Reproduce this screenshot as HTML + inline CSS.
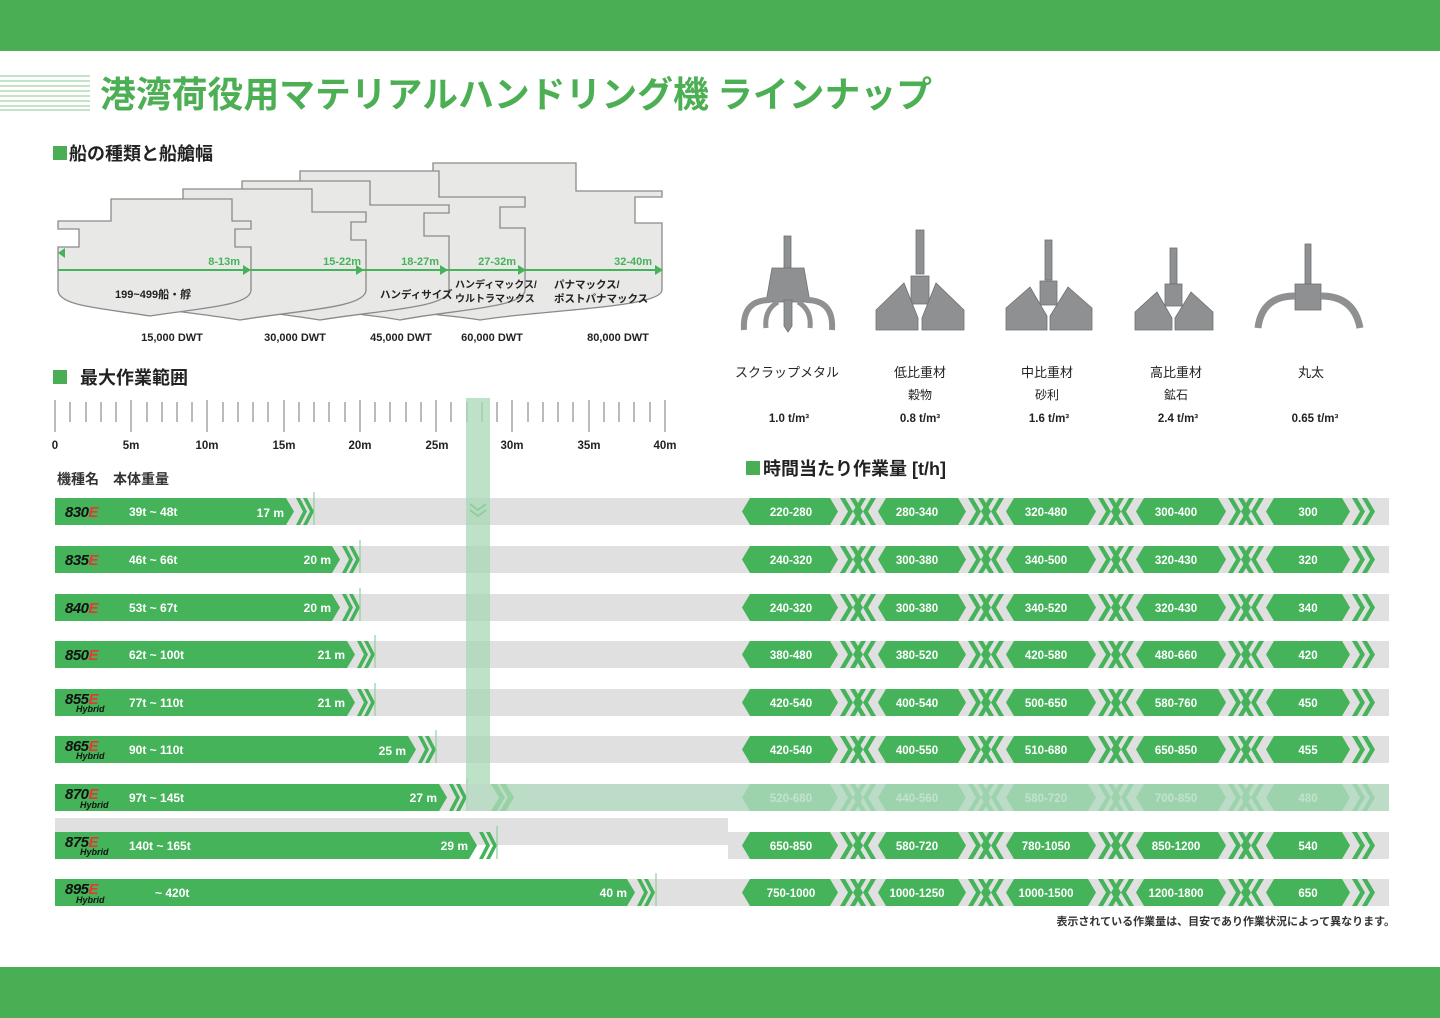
<!DOCTYPE html>
<html><head><meta charset="utf-8"><style>
html,body{margin:0;padding:0;background:#fff;}
svg{display:block;font-family:"Liberation Sans","Noto Sans CJK JP",sans-serif;}
.w{fill:#fff;font-weight:bold;font-size:12px;}
.v{fill:#fff;font-weight:bold;font-size:11.5px;text-anchor:middle;}
.m{fill:#111;font-weight:bold;font-style:italic;font-size:15px;letter-spacing:-0.5px;}
.h{fill:#111;font-weight:bold;font-style:italic;font-size:9px;}
</style></head><body>
<svg width="1440" height="1018" viewBox="0 0 1440 1018" xmlns="http://www.w3.org/2000/svg">
<defs>
<g id="rc">
<polygon points="742,13.5 750,0 830,0 838,13.5 830,27 750,27" fill="#45b35a"/>
<polygon points="840,0 845,0 853,13.5 845,27 840,27 848,13.5" fill="#45b35a"/>
<polygon points="850,0 855,0 863,13.5 855,27 850,27 858,13.5" fill="#45b35a"/>
<polygon points="866,0 861,0 853,13.5 861,27 866,27 858,13.5" fill="#45b35a"/>
<polygon points="876,0 871,0 863,13.5 871,27 876,27 868,13.5" fill="#45b35a"/>
<polygon points="878,13.5 886,0 958,0 966,13.5 958,27 886,27" fill="#45b35a"/>
<polygon points="968,0 973,0 981,13.5 973,27 968,27 976,13.5" fill="#45b35a"/>
<polygon points="978,0 983,0 991,13.5 983,27 978,27 986,13.5" fill="#45b35a"/>
<polygon points="994,0 989,0 981,13.5 989,27 994,27 986,13.5" fill="#45b35a"/>
<polygon points="1004,0 999,0 991,13.5 999,27 1004,27 996,13.5" fill="#45b35a"/>
<polygon points="1006,13.5 1014,0 1088,0 1096,13.5 1088,27 1014,27" fill="#45b35a"/>
<polygon points="1098,0 1103,0 1111,13.5 1103,27 1098,27 1106,13.5" fill="#45b35a"/>
<polygon points="1108,0 1113,0 1121,13.5 1113,27 1108,27 1116,13.5" fill="#45b35a"/>
<polygon points="1124,0 1119,0 1111,13.5 1119,27 1124,27 1116,13.5" fill="#45b35a"/>
<polygon points="1134,0 1129,0 1121,13.5 1129,27 1134,27 1126,13.5" fill="#45b35a"/>
<polygon points="1136,13.5 1144,0 1218,0 1226,13.5 1218,27 1144,27" fill="#45b35a"/>
<polygon points="1228,0 1233,0 1241,13.5 1233,27 1228,27 1236,13.5" fill="#45b35a"/>
<polygon points="1238,0 1243,0 1251,13.5 1243,27 1238,27 1246,13.5" fill="#45b35a"/>
<polygon points="1254,0 1249,0 1241,13.5 1249,27 1254,27 1246,13.5" fill="#45b35a"/>
<polygon points="1264,0 1259,0 1251,13.5 1259,27 1264,27 1256,13.5" fill="#45b35a"/>
<polygon points="1266,13.5 1274,0 1342,0 1350,13.5 1342,27 1274,27" fill="#45b35a"/>
<polygon points="1352,0 1357,0 1365,13.5 1357,27 1352,27 1360,13.5" fill="#45b35a"/>
<polygon points="1362,0 1367,0 1375,13.5 1367,27 1362,27 1370,13.5" fill="#45b35a"/>
</g>
</defs>
<rect x="0" y="0" width="1440" height="51" fill="#4aae55"/>
<rect x="0" y="967" width="1440" height="51" fill="#4aae55"/>
<g stroke="#9fd3a5" stroke-width="1.2">
<line x1="0" y1="76" x2="90" y2="76"/><line x1="0" y1="81" x2="90" y2="81"/><line x1="0" y1="86" x2="90" y2="86"/><line x1="0" y1="91" x2="90" y2="91"/><line x1="0" y1="96" x2="90" y2="96"/><line x1="0" y1="101" x2="90" y2="101"/><line x1="0" y1="106" x2="90" y2="106"/><line x1="0" y1="110" x2="90" y2="110"/>
</g>
<text x="100" y="107" font-size="36" font-weight="bold" fill="#4daf54" font-family="'Noto Sans CJK JP',sans-serif" textLength="832" lengthAdjust="spacingAndGlyphs">港湾荷役用マテリアルハンドリング機 ラインナップ</text>
<rect x="53" y="146" width="14" height="14" fill="#4aae55"/>
<text x="69" y="160" font-size="18" font-weight="bold" fill="#222">船の種類と船艙幅</text>

<g fill="#e8e9e7" stroke="#8a8a8a" stroke-width="1.3">
<path d="M300,191 H433 V163 H576 V191 H662 V197 H635 V223 H662 V290 C662,308 540,310 480,320 C420,310 300,308 300,290 Z"/>
<path d="M240,197 H300 V171 H439 V197 H525 V207 H500 V228 H525 V290 C525,308 450,310 400,320 C350,310 240,308 240,290 Z"/>
<path d="M195,205 H242 V181 H370 V205 H449 V213 H424 V236 H449 V290 C449,308 380,310 320,320 C260,310 195,308 195,290 Z"/>
<path d="M115,212 H183 V189 H312 V212 H366 V222 H351 V240 H366 V290 C366,308 300,310 240,320 C180,310 115,308 115,290 Z"/>
<path d="M58,221 H111 V199 H232 V221 H251 V229 H235 V247 H251 V290 C251,306 200,308 150,316 C100,308 58,306 58,290 V247 H79 V229 H58 Z"/>
</g>
<line x1="58" y1="270" x2="660" y2="270" stroke="#45b35a" stroke-width="2"/>
<g fill="#45b35a">
<polygon points="243,265 251,270 243,275"/><polygon points="356,265 364,270 356,275"/><polygon points="440,265 448,270 440,275"/><polygon points="518,265 526,270 518,275"/><polygon points="655,265 663,270 655,275"/><polygon points="65,248 58,253 65,258"/>
</g>
<g fill="#45b35a" font-size="11" font-weight="bold" text-anchor="end">
<text x="240" y="265">8-13m</text><text x="361" y="265">15-22m</text><text x="439" y="265">18-27m</text><text x="516" y="265">27-32m</text><text x="652" y="265">32-40m</text>
</g>
<g fill="#222" font-size="11" font-weight="bold">
<text x="115" y="298">199~499船・艀</text>
<text x="380" y="298" font-size="10.5">ハンディサイズ</text>
<text x="455" y="288" font-size="10">ハンディマックス/</text><text x="455" y="302" font-size="10">ウルトラマックス</text>
<text x="554" y="288" font-size="10.5">パナマックス/</text><text x="554" y="302" font-size="10.5">ポストパナマックス</text>
</g>
<g fill="#222" font-size="11" font-weight="bold" text-anchor="middle">
<text x="172" y="341">15,000 DWT</text><text x="295" y="341">30,000 DWT</text><text x="401" y="341">45,000 DWT</text><text x="492" y="341">60,000 DWT</text><text x="618" y="341">80,000 DWT</text>
</g>

<g fill="#8e9092" stroke="#6f7173" stroke-width="0.8">
<rect x="784" y="236" width="7" height="32"/>
<polygon points="772,268 804,268 810,302 766,302"/>
<path d="M770,300 Q742,300 744,330" fill="none" stroke="#8e9092" stroke-width="6"/>
<path d="M806,300 Q834,300 832,330" fill="none" stroke="#8e9092" stroke-width="6"/>
<path d="M778,302 Q764,310 766,328" fill="none" stroke="#8e9092" stroke-width="5"/>
<path d="M798,302 Q812,310 810,328" fill="none" stroke="#8e9092" stroke-width="5"/>
<polygon points="784,300 792,300 792,326 788,332 784,326"/>
<rect x="916" y="230" width="8" height="44"/>
<rect x="911" y="276" width="18" height="28"/>
<polygon points="876,310 904,283 918,318 918,330 876,330"/>
<polygon points="964,310 936,283 922,318 922,330 964,330"/>
<rect x="1045" y="240" width="7" height="40"/>
<rect x="1040" y="281" width="17" height="24"/>
<polygon points="1006,308 1030,287 1047,316 1047,330 1006,330"/>
<polygon points="1092,308 1068,287 1050,316 1050,330 1092,330"/>
<rect x="1170" y="248" width="7" height="36"/>
<rect x="1165" y="284" width="17" height="22"/>
<polygon points="1135,312 1157,292 1172,318 1172,330 1135,330"/>
<polygon points="1213,312 1191,292 1175,318 1175,330 1213,330"/>
<rect x="1305" y="244" width="6" height="40"/>
<rect x="1295" y="284" width="26" height="26"/>
<path d="M1295,296 Q1262,296 1258,328" fill="none" stroke="#8e9092" stroke-width="7"/>
<path d="M1321,296 Q1354,296 1360,328" fill="none" stroke="#8e9092" stroke-width="7"/>
</g>
<g fill="#222" font-size="13" text-anchor="middle">
<text x="787" y="377">スクラップメタル</text><text x="920" y="377">低比重材</text><text x="1047" y="377">中比重材</text><text x="1176" y="377">高比重材</text><text x="1311" y="377">丸太</text>
</g>
<g fill="#222" font-size="12" text-anchor="middle">
<text x="920" y="399">穀物</text><text x="1047" y="399">砂利</text><text x="1176" y="399">鉱石</text>
</g>
<g fill="#222" font-size="11.5" text-anchor="middle" font-weight="bold">
<text x="789" y="422">1.0 t/m³</text><text x="920" y="422">0.8 t/m³</text><text x="1049" y="422">1.6 t/m³</text><text x="1178" y="422">2.4 t/m³</text><text x="1315" y="422">0.65 t/m³</text>
</g>

<rect x="53" y="370" width="14" height="14" fill="#4aae55"/>
<text x="80" y="384" font-size="18" font-weight="bold" fill="#222">最大作業範囲</text>
<g stroke="#777" stroke-width="1">
<path d="M55,400V432 M70,402V422 M86,402V422 M101,402V422 M116,402V422 M131,400V432 M147,402V422 M162,402V422 M177,402V422 M192,402V422 M207,400V432 M223,402V422 M238,402V422 M253,402V422 M268,402V422 M284,400V432 M299,402V422 M314,402V422 M329,402V422 M345,402V422 M360,400V432 M375,402V422 M390,402V422 M406,402V422 M421,402V422 M436,400V432 M451,402V422 M467,402V422 M482,402V422 M497,402V422 M512,400V432 M528,402V422 M543,402V422 M558,402V422 M573,402V422 M589,400V432 M604,402V422 M619,402V422 M634,402V422 M650,402V422 M665,400V432"/>
</g>
<g fill="#222" font-size="11.5" font-weight="bold" text-anchor="middle">
<text x="55" y="449">0</text><text x="131" y="449">5m</text><text x="207" y="449">10m</text><text x="284" y="449">15m</text><text x="360" y="449">20m</text><text x="437" y="449">25m</text><text x="512" y="449">30m</text><text x="589" y="449">35m</text><text x="665" y="449">40m</text>
</g>
<text x="57" y="484" font-size="14" font-weight="bold" fill="#333">機種名　本体重量</text>
<rect x="746" y="461" width="14" height="14" fill="#4aae55"/>
<text x="763" y="475" font-size="18" font-weight="bold" fill="#222">時間当たり作業量 [t/h]</text>

<g fill="#dfe0df">
<rect x="55" y="498" width="1334" height="27"/><rect x="55" y="546" width="1334" height="27"/><rect x="55" y="594" width="1334" height="27"/><rect x="55" y="641" width="1334" height="27"/><rect x="55" y="689" width="1334" height="27"/><rect x="55" y="736" width="1334" height="27"/><rect x="55" y="784" width="1334" height="27"/>
<rect x="55" y="818" width="673" height="27"/><rect x="728" y="832" width="661" height="27"/>
<rect x="55" y="879" width="1334" height="27"/>
</g>
<use href="#rc" transform="translate(0,498)"/><use href="#rc" transform="translate(0,546)"/><use href="#rc" transform="translate(0,594)"/><use href="#rc" transform="translate(0,641)"/><use href="#rc" transform="translate(0,689)"/><use href="#rc" transform="translate(0,736)"/><use href="#rc" transform="translate(0,784)"/><use href="#rc" transform="translate(0,832)"/><use href="#rc" transform="translate(0,879)"/>

<g fill="#45b35a">
<path d="M55,498H290L298,511.5L290,525H55Z M300,498H304L311,511.5L304,525H300L307,511.5Z M307,498H311L318,511.5L311,525H307L314,511.5Z" transform="translate(-4,0)"/>
<path d="M55,546H336L344,559.5L336,573H55Z M346,546H350L357,559.5L350,573H346L353,559.5Z M353,546H357L364,559.5L357,573H353L360,559.5Z" transform="translate(-4,0)"/>
<path d="M55,594H336L344,607.5L336,621H55Z M346,594H350L357,607.5L350,621H346L353,607.5Z M353,594H357L364,607.5L357,621H353L360,607.5Z" transform="translate(-4,0)"/>
<path d="M55,641H351L359,654.5L351,668H55Z M361,641H365L372,654.5L365,668H361L368,654.5Z M368,641H372L379,654.5L372,668H368L375,654.5Z" transform="translate(-4,0)"/>
<path d="M55,689H351L359,702.5L351,716H55Z M361,689H365L372,702.5L365,716H361L368,702.5Z M368,689H372L379,702.5L372,716H368L375,702.5Z" transform="translate(-4,0)"/>
<path d="M55,736H412L420,749.5L412,763H55Z M422,736H426L433,749.5L426,763H422L429,749.5Z M429,736H433L440,749.5L433,763H429L436,749.5Z" transform="translate(-4,0)"/>
<path d="M55,784H443L451,797.5L443,811H55Z M453,784H457L464,797.5L457,811H453L460,797.5Z M460,784H464L471,797.5L464,811H460L467,797.5Z" transform="translate(-4,0)"/>
<path d="M55,832H473L481,845.5L473,859H55Z M483,832H487L494,845.5L487,859H483L490,845.5Z M490,832H494L501,845.5L494,859H490L497,845.5Z" transform="translate(-4,0)"/>
<path d="M55,879H631L639,892.5L631,906H55Z M641,879H645L652,892.5L645,906H641L648,892.5Z M648,879H652L659,892.5L652,906H648L655,892.5Z" transform="translate(-4,0)"/>
</g>
<rect x="48" y="490" width="7" height="420" fill="#fff"/>
<g stroke="#8fd09a" stroke-width="1.2">
<line x1="314" y1="492" x2="314" y2="525"/><line x1="360" y1="540" x2="360" y2="573"/><line x1="360" y1="588" x2="360" y2="621"/><line x1="375" y1="635" x2="375" y2="668"/><line x1="375" y1="683" x2="375" y2="716"/><line x1="436" y1="730" x2="436" y2="763"/><line x1="467" y1="778" x2="467" y2="811"/><line x1="497" y1="826" x2="497" y2="859"/><line x1="656" y1="873" x2="656" y2="906"/>
</g>

<g>
<text class="m" x="65" y="517">830<tspan fill="#e53935">E</tspan></text>
<text class="m" x="65" y="565">835<tspan fill="#e53935">E</tspan></text>
<text class="m" x="65" y="613">840<tspan fill="#e53935">E</tspan></text>
<text class="m" x="65" y="660">850<tspan fill="#e53935">E</tspan></text>
<text class="m" x="65" y="704">855<tspan fill="#e53935">E</tspan></text><text class="h" x="76" y="712">Hybrid</text>
<text class="m" x="65" y="751">865<tspan fill="#e53935">E</tspan></text><text class="h" x="76" y="759">Hybrid</text>
<text class="m" x="65" y="799">870<tspan fill="#e53935">E</tspan></text><text class="h" x="80" y="808">Hybrid</text>
<text class="m" x="65" y="847">875<tspan fill="#e53935">E</tspan></text><text class="h" x="80" y="855">Hybrid</text>
<text class="m" x="65" y="894">895<tspan fill="#e53935">E</tspan></text><text class="h" x="76" y="903">Hybrid</text>
</g>
<g class="w">
<text x="129" y="516">39t ~ 48t</text><text x="129" y="564">46t ~ 66t</text><text x="129" y="612">53t ~ 67t</text><text x="129" y="659">62t ~ 100t</text><text x="129" y="707">77t ~ 110t</text><text x="129" y="754">90t ~ 110t</text><text x="129" y="802">97t ~ 145t</text><text x="129" y="850">140t ~ 165t</text><text x="155" y="897">~ 420t</text>
</g>
<g class="w" text-anchor="end">
<text x="284" y="517">17 m</text><text x="331" y="564">20 m</text><text x="331" y="612">20 m</text><text x="345" y="659">21 m</text><text x="345" y="707">21 m</text><text x="406" y="755">25 m</text><text x="437" y="802">27 m</text><text x="468" y="850">29 m</text><text x="627" y="897">40 m</text>
</g>
<g class="v">
<text x="791" y="516">220-280</text><text x="917" y="516">280-340</text><text x="1046" y="516">320-480</text><text x="1176" y="516">300-400</text><text x="1308" y="516">300</text>
<text x="791" y="564">240-320</text><text x="917" y="564">300-380</text><text x="1046" y="564">340-500</text><text x="1176" y="564">320-430</text><text x="1308" y="564">320</text>
<text x="791" y="612">240-320</text><text x="917" y="612">300-380</text><text x="1046" y="612">340-520</text><text x="1176" y="612">320-430</text><text x="1308" y="612">340</text>
<text x="791" y="659">380-480</text><text x="917" y="659">380-520</text><text x="1046" y="659">420-580</text><text x="1176" y="659">480-660</text><text x="1308" y="659">420</text>
<text x="791" y="707">420-540</text><text x="917" y="707">400-540</text><text x="1046" y="707">500-650</text><text x="1176" y="707">580-760</text><text x="1308" y="707">450</text>
<text x="791" y="754">420-540</text><text x="917" y="754">400-550</text><text x="1046" y="754">510-680</text><text x="1176" y="754">650-850</text><text x="1308" y="754">455</text>
<text x="791" y="802">520-680</text><text x="917" y="802">440-560</text><text x="1046" y="802">580-720</text><text x="1176" y="802">700-850</text><text x="1308" y="802">480</text>
<text x="791" y="850">650-850</text><text x="917" y="850">580-720</text><text x="1046" y="850">780-1050</text><text x="1176" y="850">850-1200</text><text x="1308" y="850">540</text>
<text x="791" y="897">750-1000</text><text x="917" y="897">1000-1250</text><text x="1046" y="897">1000-1500</text><text x="1176" y="897">1200-1800</text><text x="1308" y="897">650</text>
</g>
<rect x="466" y="398" width="24" height="386" fill="#a8d8b4" opacity="0.75"/>
<rect x="466" y="784" width="923" height="27" fill="#b3dbc0" opacity="0.8"/>
<g fill="#8fcf9c" opacity="0.8">
<polygon points="491,784 497,784 505,797.5 497,811 491,811 499,797.5"/>
<polygon points="500,784 506,784 514,797.5 506,811 500,811 508,797.5"/>
</g>
<polyline points="470,504 478,510 486,504" fill="none" stroke="#8fcf9c" stroke-width="2"/>
<polyline points="470,510 478,516 486,510" fill="none" stroke="#8fcf9c" stroke-width="2"/>
<text x="1395" y="925" font-size="11" font-weight="bold" fill="#333" text-anchor="end">表示されている作業量は、目安であり作業状況によって異なります。</text>
</svg>
</body></html>
